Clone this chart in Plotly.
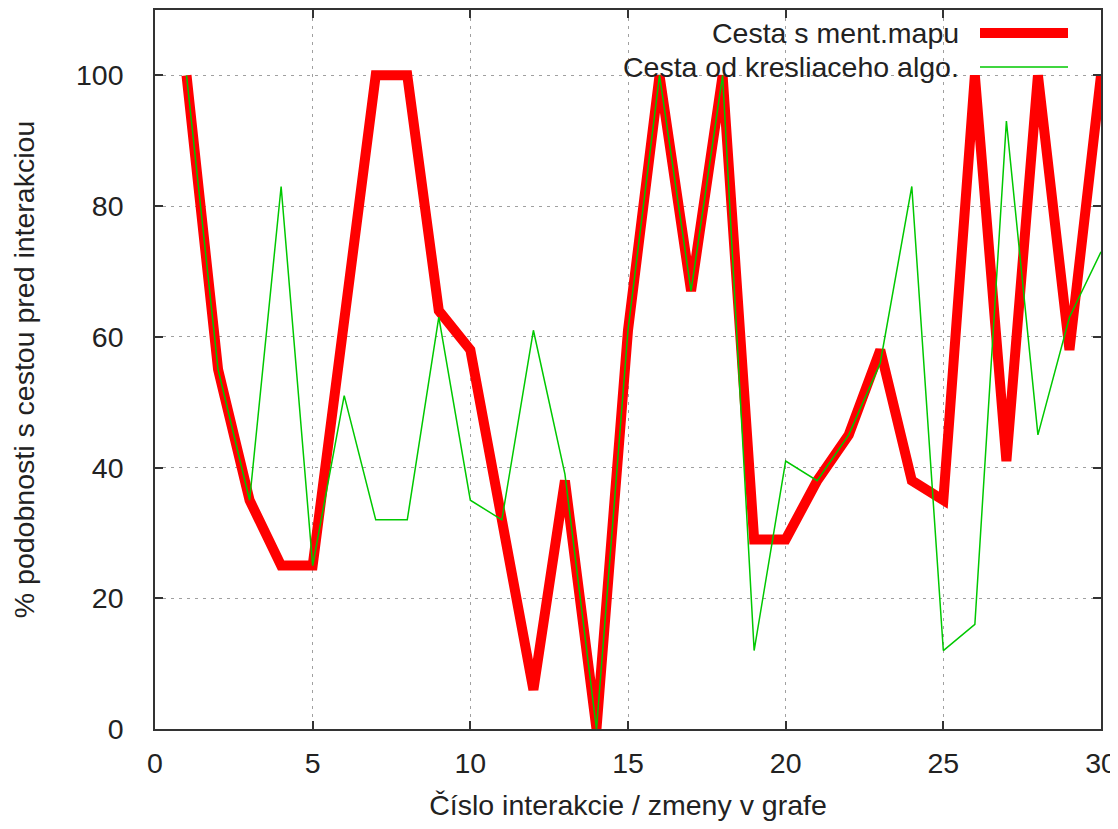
import plotly.graph_objects as go

x_vals = list(range(1, 31))
ment_mapa = [100, 55, 35, 25, 25, 62, 100, 100, 64, 58,
             32, 6, 38, 0, 61, 100, 67, 100, 29, 29,
             38, 45, 58, 38, 35, 100, 41, 100, 58, 100]
kresliaci = [100, 55, 35, 83, 25, 51, 32, 32, 63, 35,
             32, 61, 39, 0, 61, 100, 67, 100, 12, 41,
             38, 45, 56, 83, 12, 16, 93, 45, 63, 73]

name_red = "Cesta s ment.mapu"
name_green = "Cesta od kresliaceho algo."
x_title = "Číslo interakcie / zmeny v grafe"
y_title = "% podobnosti s cestou pred interakciou"
x_ticks = [0, 5, 10, 15, 20, 25, 30]
y_ticks = [0, 20, 40, 60, 80, 100]

RED = "#ff0000"
GREEN = "#00c800"
FONT = "Liberation Sans, Arial, sans-serif"
FS = 28.5

fig = go.Figure()
fig.add_trace(go.Scatter(x=x_vals, y=ment_mapa, mode="lines", name=name_red,
                         line=dict(color=RED, width=10)))
fig.add_trace(go.Scatter(x=x_vals, y=kresliaci, mode="lines", name=name_green,
                         line=dict(color=GREEN, width=1.5)))

axis_common = dict(
    showline=True, linecolor="#333333", linewidth=1.5, mirror="ticks",
    ticks="inside", ticklen=8, tickwidth=1.5, tickcolor="#333333",
    showgrid=True, gridcolor="#a0a0a0", gridwidth=1, griddash="3px,5px",
    zeroline=False, automargin=False, ticklabeloverflow="allow",
    tickfont=dict(family=FONT, size=FS, color="#222222"),
)

# page has an 8px body margin, so the figure is sized/offset to compensate
fig.update_layout(
    width=1110, height=813,
    margin=dict(l=147, r=17, t=2, b=92),
    paper_bgcolor="white", plot_bgcolor="white",
    showlegend=False,
    font=dict(family=FONT, size=FS, color="#222222"),
    xaxis=dict(range=[0, 30], tickvals=x_ticks, ticklabelstandoff=8,
               title=dict(text=x_title, font=dict(family=FONT, size=FS), standoff=22),
               **axis_common),
    yaxis=dict(range=[0, 110], tickvals=y_ticks, ticklabelstandoff=24,
               title=dict(text=y_title, font=dict(family=FONT, size=FS), standoff=33),
               **axis_common),
)

# opaque legend area (covers grid, lies below the data lines)
fig.add_shape(type="rect", xref="paper", yref="paper",
              x0=0.365, x1=0.978, y0=0.896, y1=0.998,
              fillcolor="white", line=dict(width=0), layer="between")

# manual legend (text left, sample on right, as in gnuplot)
leg = [(name_red, RED, 10, 33), (name_green, GREEN, 1.5, 67)]
H = 719.0
W = 946.0
for txt, col, w, ypx in leg:
    yp = (729 - ypx) / H
    fig.add_annotation(xref="paper", yref="paper", x=(961 - 155) / W, y=yp,
                       text=txt, showarrow=False, xanchor="right", yanchor="middle",
                       font=dict(family=FONT, size=FS, color="#222222"))
    fig.add_shape(type="line", xref="paper", yref="paper",
                  x0=(980 - 155) / W, x1=(1068 - 155) / W, y0=yp, y1=yp,
                  line=dict(color=col, width=w), layer="above")

fig.write_html("out.html")
